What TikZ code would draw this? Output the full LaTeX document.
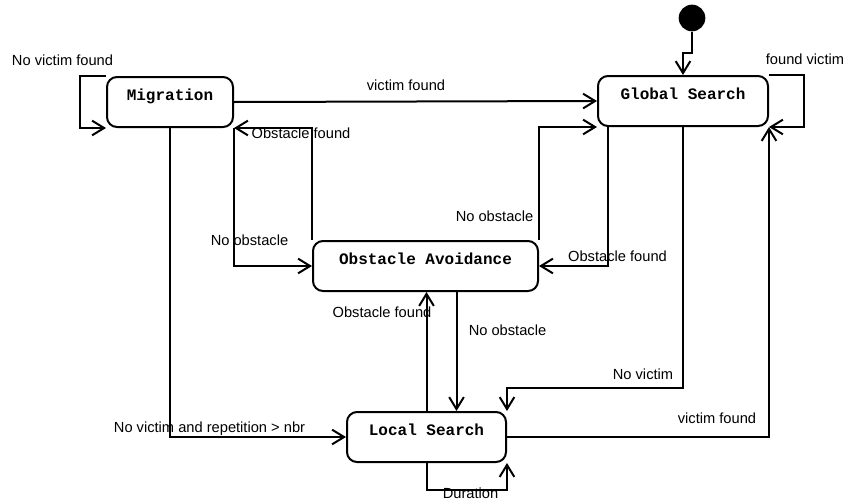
\documentclass[tikz,border=0pt]{standalone}
\usepackage{fontspec}
\setmainfont{Liberation Sans}
\newfontfamily\statefont{Liberation Mono}
\usetikzlibrary{arrows.meta,calc,positioning}
\tikzset{ar/.style={-{Straight Barb[length=9pt,width=11pt,line width=1.5pt]},line width=1.5pt}}
\tikzset{%
    state/.style={draw,line width=1.5pt,rounded corners=7.5pt,inner xsep=0pt,inner ysep=0pt,
        text height=17.5pt,text depth=20pt,anchor=north,font=\statefont\bfseries\fontsize{12}{14}\selectfont},
}
\tikzstyle{lbl}=[inner sep=0pt,text height=7.9pt,text depth=0pt,font=\fontsize{11}{13}\selectfont]

\begin{document}
\begin{tikzpicture}[x=0.75pt,y=-0.75pt]
    \useasboundingbox (0,0) rectangle (845,500);
    \node [state,minimum width=94.5pt] (mig) at (170,76) {Migration};
    \node [state,minimum width=127.5pt] (glob) at (683,75) {Global Search};
    \node [state,minimum width=168.75pt] (oa) at (425.5,240) {Obstacle Avoidance};
    \node [state,minimum width=119.25pt] (ls) at (426.5,411) {Local Search};
    \node [circle,fill,inner sep=0pt,minimum size=20pt] (init) at (692,18) {};
    \coordinate (oaout) at ($(oa.south)+(31,0)$);
    % transitions
    \draw[ar] (init.south) -- ++(0,21) -| (glob.north);
    \draw[ar] (mig.north west) -- ++(-26,0) |- (mig.south west);
    \draw[ar] (glob.north east) -- ++(35,0) |- (glob.south east);
    \draw[ar] (mig.east) -- (glob.west);
    \draw[ar] (oa.north west) |- (mig.south east);
    \draw[ar] (mig.south east) |- (oa.west);
    \draw[ar] (oa.north east) |- (glob.south west);
    \draw[ar] ($(glob.south west)+(11,0)$) |- (oa.east);
    \draw[ar] (glob.south) |- ($(ls.north east)+(0,-23)$) -- (ls.north east);
    \draw[ar] (mig.south) |- (ls.west);
    \draw[ar] (oaout) -- (oaout |- ls.north);
    \draw[ar] (ls.north) -- (ls.north |- oa.south);
    \draw[ar] (ls.south) -- ++(0,27) -| (ls.south east);
    \draw[ar] (ls.east) -| (glob.south east);
    % labels
    \node [lbl] (lmig) at (62.5,60) {No victim found};
    \node [lbl] (lvic) at (406,85) {victim found};
    \node [lbl] (lglob) at (805,59) {found victim};
    \node [lbl] (lobsm) at (301,133) {Obstacle found};
    \node [lbl] (lnom) at (249.5,240) {No obstacle};
    \node [lbl] (lnog) at (494.5,216) {No obstacle};
    \node [lbl] (lobsg) at (617.5,256) {Obstacle found};
    \node [lbl] (lobsl) at (382,312) {Obstacle found};
    \node [lbl] (lnol) at (507.5,330) {No obstacle};
    \node [lbl] (lnovic) at (643,374) {No victim};
    \node [lbl] (lvicl) at (717,418) {victim found};
    \node [lbl] (lrep) at (209.5,427) {No victim and repetition > nbr};
    \node [lbl] (ldur) at (470.5,493) {Duration};
\end{tikzpicture}
\end{document}
